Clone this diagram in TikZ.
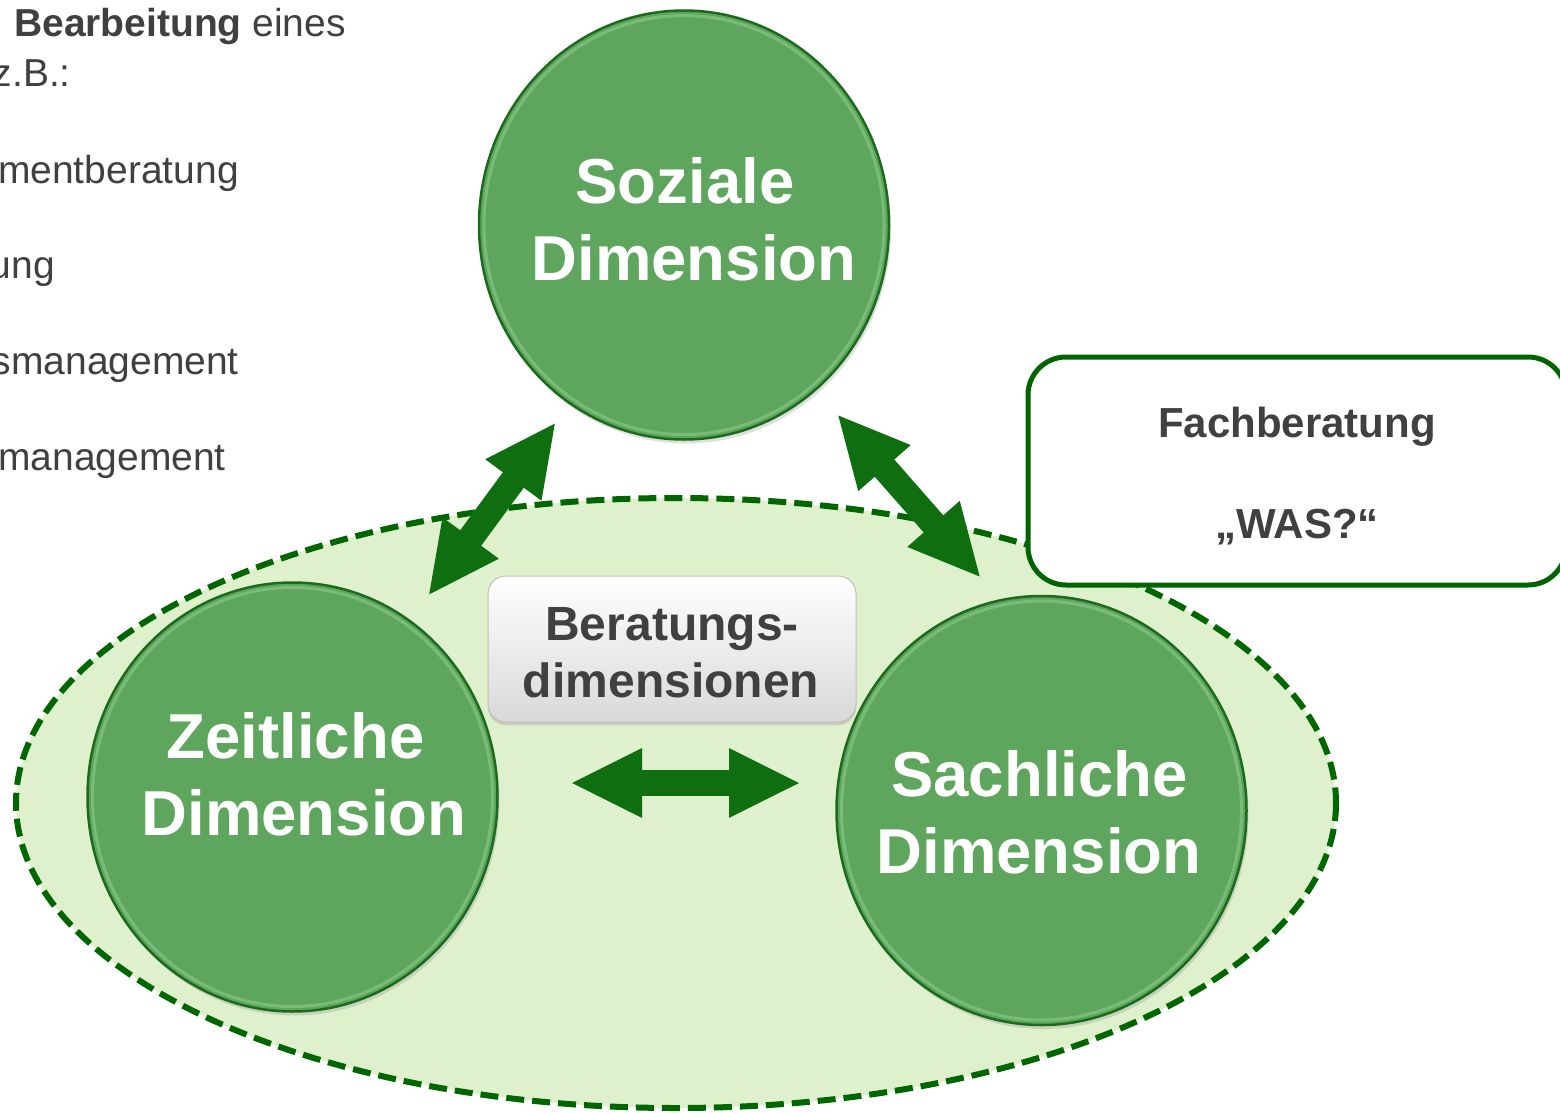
\documentclass[tikz,border=0pt]{standalone}
\usepackage{fontspec}
\setmainfont{Liberation Sans}
\usetikzlibrary{arrows.meta,shadows,shapes.geometric}
\definecolor{circfill}{HTML}{5EA65E}
\definecolor{circline}{HTML}{1C6B1C}
\definecolor{circhigh}{HTML}{8CCB8C}
\definecolor{ellfill}{HTML}{DFF0CD}
\definecolor{ellline}{HTML}{006600}
\definecolor{arrowgreen}{HTML}{0F6E0F}
\definecolor{txtgrey}{HTML}{404040}
\definecolor{boxline}{HTML}{006400}
\tikzset{
  dimcircle/.style={ellipse, fill=circfill, draw=circline, line width=2.5pt, minimum width=410pt, minimum height=429pt, inner sep=0pt, drop shadow={shadow xshift=2pt, shadow yshift=-4pt, opacity=0.25}},
  dimhigh/.style={ellipse, draw=circhigh, line width=3pt, opacity=0.6, minimum width=400pt, minimum height=419pt, inner sep=0pt},
  dimtext/.style={text=white, font=\bfseries\fontsize{63.5}{77}\selectfont, inner sep=0pt, anchor=base},
  lefttext/.style={text=txtgrey, font=\fontsize{39}{47}\selectfont, inner sep=0pt, anchor=base east},
  fattarrow/.style={arrowgreen, line width=26pt, {Triangle[length=72pt,width=64pt]}-{Triangle[length=72pt,width=64pt]}},
}
\begin{document}
\begin{tikzpicture}[x=1pt,y=-1pt]
\useasboundingbox (0,0) rectangle (1560,1113);
% ellipse background
\draw[fill=ellfill, draw=ellline, line width=6pt, dash pattern=on 18pt off 8pt] (676,803) ellipse [x radius=660, y radius=305];
% left text
\node[lefttext] (l1) at (346,37) {\textbf{Bearbeitung} eines};
\node[lefttext] (l2) at (71,87) {z.B.:};
\node[lefttext] (l3) at (239,183) {mentberatung};
\node[lefttext] (l4) at (55,278) {ung};
\node[lefttext] (l5) at (239,374) {smanagement};
\node[lefttext] (l6) at (226,470) {management};
% circles
\node[dimcircle] (soz) at (684,225) {};
\node[dimcircle] (zeit) at (292.5,797) {};
\node[dimcircle] (sach) at (1041.5,810.5) {};
\node[dimhigh] (sozh) at (soz.center) {};
\node[dimhigh] (zeith) at (zeit.center) {};
\node[dimhigh] (sachh) at (sach.center) {};
\node[dimtext] (soz1) at (685,203) {Soziale};
\node[dimtext] (soz2) at (694,280) {Dimension};
\node[dimtext] (zeit1) at (295.5,758) {Zeitliche};
\node[dimtext] (zeit2) at (304,835) {Dimension};
\node[dimtext] (sach1) at (1039.5,796) {Sachliche};
\node[dimtext] (sach2) at (1039,873) {Dimension};
% center box
\node (bd) [draw=gray!50, line width=1pt, rounded corners=18pt, top color=white, bottom color=gray!30, minimum width=368pt, minimum height=146pt, drop shadow={shadow xshift=0pt, shadow yshift=-3pt, opacity=0.3}] at (672,649) {};
\node[text=txtgrey, font=\bfseries\fontsize{48}{57}\selectfont, inner sep=0pt, anchor=base] (bd1) at (672,640) {Beratungs-};
\node[text=txtgrey, font=\bfseries\fontsize{48}{57}\selectfont, inner sep=0pt, anchor=base] (bd2) at (671,697) {dimensionen};
% Fachberatung box
\node (fb) [draw=boxline, fill=white, line width=5pt, rounded corners=38pt, minimum width=538pt, minimum height=228pt] at (1297,471) {};
\node[text=txtgrey, font=\bfseries\fontsize{42}{50}\selectfont, inner sep=0pt, anchor=base] (fb1) at (1297,437) {Fachberatung};
\node[text=txtgrey, font=\bfseries\fontsize{42}{50}\selectfont, inner sep=0pt, anchor=base] (fb2) at (1297,538) {„WAS?“};
% arrows
\coordinate (a1s) at (428,596);
\coordinate (a1e) at (556,422);
\coordinate (a2s) at (837,414);
\coordinate (a2e) at (981,578);
\coordinate (a3s) at (570,783);
\coordinate (a3e) at (801,783);
\draw[fattarrow] (a1s) -- (a1e);
\draw[fattarrow] (a2s) -- (a2e);
\draw[fattarrow] (a3s) -- (a3e);
\end{tikzpicture}
\end{document}
